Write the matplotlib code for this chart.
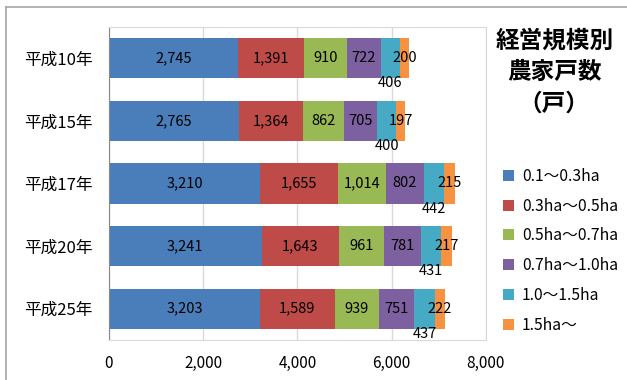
import matplotlib
matplotlib.use('Agg')
import matplotlib.pyplot as plt
from matplotlib.lines import Line2D
from matplotlib.patches import Patch
import numpy as np

plt.rcParams['font.family'] = ['Noto Sans CJK JP', 'DejaVu Sans']

years = ['平成10年', '平成15年', '平成17年', '平成20年', '平成25年']
sizes = ['0.1～0.3ha', '0.3ha～0.5ha', '0.5ha～0.7ha', '0.7ha～1.0ha', '1.0～1.5ha', '1.5ha～']
s01_03 = [2745, 2765, 3210, 3241, 3203]
s03_05 = [1391, 1364, 1655, 1643, 1589]
s05_07 = [910, 862, 1014, 961, 939]
s07_10 = [722, 705, 802, 781, 751]
s10_15 = [406, 400, 442, 431, 437]
s15_up = [200, 197, 215, 217, 222]
series = [s01_03, s03_05, s05_07, s07_10, s10_15, s15_up]
colors = ['#4A7EBB', '#BE4B48', '#98B954', '#7D60A0', '#46AAC5', '#F69240']
xticks = [0, 2000, 4000, 6000, 8000]

fig = plt.figure(figsize=(6.27, 3.80), dpi=100)
ax = fig.add_axes([0.1738, 0.1053, 0.601, 0.8237])

y = np.arange(len(years))
left = np.zeros(len(years))
for k, (vals, c) in enumerate(zip(series, colors)):
    vals = np.array(vals)
    ax.barh(y, vals, left=left, height=0.64, color=c, zorder=2)
    for i, v in enumerate(vals):
        cx = left[i] + v / 2
        cy = y[i] + 0.40 if k == 4 else y[i]
        ax.text(cx, cy, f'{v:,}', ha='center', va='center', fontsize=10.5, color='black', zorder=3)
    left += vals

ax.set_xlim(0, 8000)
ax.set_ylim(len(years) - 0.5, -0.5)
ax.set_yticks(y)
ax.set_yticklabels(years, fontsize=12)
ax.set_xticks(xticks)
ax.set_xticklabels([f'{t:,}' for t in xticks], fontsize=11)
ax.tick_params(axis='x', length=0, pad=11)
ax.tick_params(axis='y', length=0, pad=12)
ax.grid(axis='x', color='#D9D9D9', linewidth=1, zorder=0)
for s in ['top', 'right', 'bottom']:
    ax.spines[s].set_color('#D9D9D9')
ax.spines['left'].set_color('#888888')

fig.text(0.884, 0.81, '経営規模別\n農家戸数\n（戸）', ha='center', va='center',
         fontsize=17, fontweight='bold', linespacing=1.4)

handles = [Patch(facecolor=c) for c in colors]
fig.legend(handles, sizes, loc='upper left', bbox_to_anchor=(0.78, 0.595),
           frameon=False, fontsize=11.3, handlelength=0.7, handleheight=0.7,
           handletextpad=0.5, labelspacing=0.81)

# outer frame (left and top edges)
fig.add_artist(Line2D([0.0096, 0.0096], [0, 0.982], color='#A6A6A6', lw=1.2, transform=fig.transFigure))
fig.add_artist(Line2D([0.0096, 1], [0.982, 0.982], color='#A6A6A6', lw=1.2, transform=fig.transFigure))

fig.savefig('out.png', dpi=100)
